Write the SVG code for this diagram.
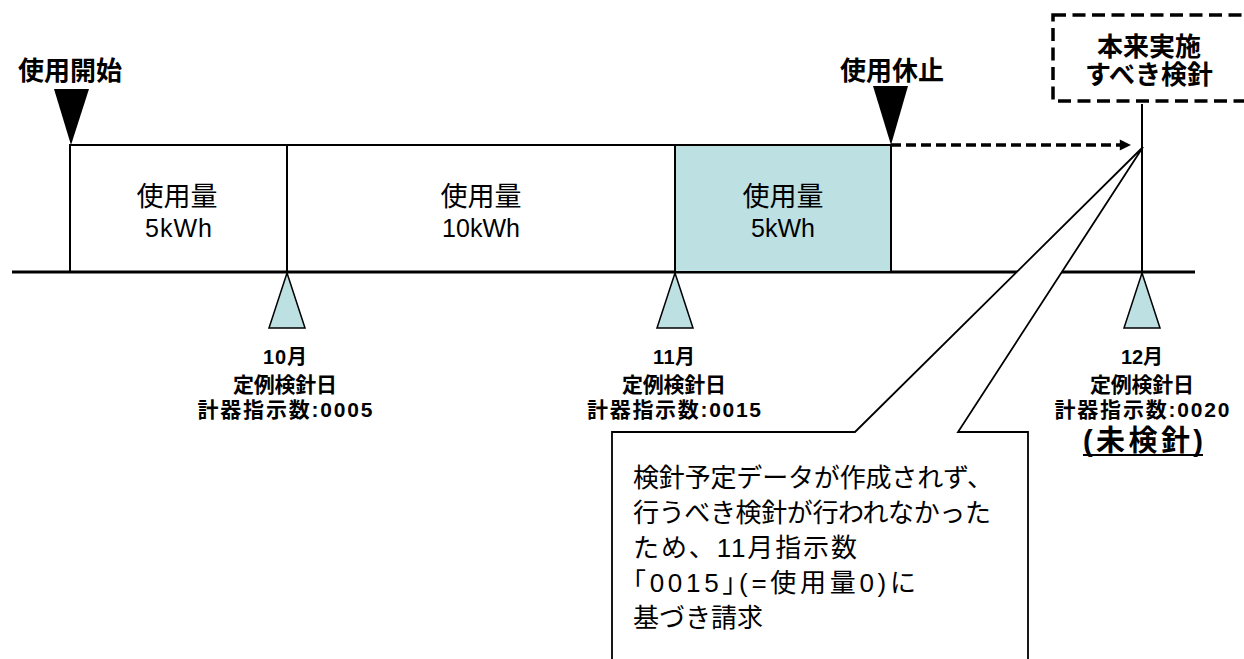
<svg xmlns="http://www.w3.org/2000/svg" width="1244" height="659" viewBox="0 0 1244 659">
<defs>
<style>
.t{font-family:"Liberation Sans","Noto Sans CJK JP",sans-serif;fill:#000}
.b{font-weight:bold}
.ln{stroke:#000;fill:none}
.blue{fill:#bde0e3;stroke:#000;stroke-width:2}
</style>
<marker id="ah" viewBox="0 0 10 10" refX="10" refY="5" markerWidth="4" markerHeight="3.2" orient="auto" markerUnits="strokeWidth">
<path d="M0,0 L10,5 L0,10 z" fill="#000"/>
</marker>
</defs>
<rect width="1244" height="659" fill="#fff"/>

<g id="timeline">
<line class="ln" x1="12" y1="272" x2="1195" y2="272" stroke-width="3"/>
</g>

<g id="period1">
<path class="ln" d="M70,272 V145 H287 V272" stroke-width="2"/>
<text class="t" x="177" y="206" font-size="27" text-anchor="middle">使用量</text>
<text class="t" x="179" y="237" font-size="25" text-anchor="middle" letter-spacing="1">5kWh</text>
</g>
<g id="period2">
<path class="ln" d="M287,145 H675" stroke-width="2"/>
<text class="t" x="481" y="206" font-size="27" text-anchor="middle">使用量</text>
<text class="t" x="481" y="237" font-size="25" text-anchor="middle">10kWh</text>
</g>
<g id="period3">
<rect class="blue" x="675" y="145" width="216" height="127"/>
<text class="t" x="783" y="206" font-size="27" text-anchor="middle">使用量</text>
<text class="t" x="783" y="237" font-size="25" text-anchor="middle">5kWh</text>
</g>

<g id="start">
<polygon points="54,89 89,89 71,145" fill="#000"/>
<text class="t b" x="70" y="80" font-size="26" text-anchor="middle">使用開始</text>
</g>
<g id="stop">
<polygon points="873,86 908,86 891,145" fill="#000"/>
<text class="t b" x="892" y="80" font-size="26" text-anchor="middle">使用休止</text>
</g>

<g id="callout">
<path d="M612,665 V432 H855 L1143,147 L958,432 H1028 V665" fill="#fff" stroke="#000" stroke-width="1.8"/>
<text class="t" font-size="26">
<tspan x="633" y="487" textLength="360" lengthAdjust="spacing">検針予定データが作成されず、</tspan>
<tspan x="633" y="522" textLength="358" lengthAdjust="spacing">行うべき検針が行われなかった</tspan>
<tspan x="633" y="557" textLength="224" lengthAdjust="spacing">ため、11月指示数</tspan>
<tspan x="633" y="592" textLength="283" lengthAdjust="spacing">｢0015｣(=使用量0)に</tspan>
<tspan x="633" y="627" textLength="130" lengthAdjust="spacing">基づき請求</tspan>
</text>
</g>

<g id="connectors">
<line class="ln" x1="891" y1="145" x2="1131" y2="145" stroke-width="3.5" stroke-dasharray="10 5" marker-end="url(#ah)"/>
<line class="ln" x1="1142" y1="104" x2="1142" y2="272" stroke-width="2"/>
</g>

<g id="planned">
<rect x="1053" y="15" width="200" height="86" fill="none" stroke="#000" stroke-width="3.5" stroke-dasharray="13 6.5"/>
<text class="t b" x="1149" y="56" font-size="26" text-anchor="middle">本来実施</text>
<text class="t b" x="1149" y="84" font-size="26" text-anchor="middle">すべき検針</text>
</g>

<g id="read10">
<polygon class="blue" points="287,273 269,328 305,328" style="stroke-width:1.5"/>
<text class="t b" x="285" y="364" font-size="20" text-anchor="middle" textLength="44" lengthAdjust="spacing">10月</text>
<text class="t b" x="285" y="392" font-size="21" text-anchor="middle" textLength="104" lengthAdjust="spacing">定例検針日</text>
<text class="t b" x="285" y="417" font-size="21" text-anchor="middle" textLength="175" lengthAdjust="spacing">計器指示数:0005</text>
</g>
<g id="read11">
<polygon class="blue" points="675,273 657,328 693,328" style="stroke-width:1.5"/>
<text class="t b" x="674" y="364" font-size="20" text-anchor="middle" textLength="42" lengthAdjust="spacing">11月</text>
<text class="t b" x="674" y="392" font-size="21" text-anchor="middle" textLength="104" lengthAdjust="spacing">定例検針日</text>
<text class="t b" x="674" y="417" font-size="21" text-anchor="middle" textLength="174" lengthAdjust="spacing">計器指示数:0015</text>
</g>
<g id="read12">
<polygon class="blue" points="1142,273 1124,328 1160,328" style="stroke-width:1.5"/>
<text class="t b" x="1142" y="364" font-size="20" text-anchor="middle" textLength="42" lengthAdjust="spacing">12月</text>
<text class="t b" x="1142" y="392" font-size="21" text-anchor="middle" textLength="104" lengthAdjust="spacing">定例検針日</text>
<text class="t b" x="1142" y="417" font-size="21" text-anchor="middle" textLength="175" lengthAdjust="spacing">計器指示数:0020</text>
<text class="t b" x="1143" y="451" font-size="29" text-anchor="middle" textLength="120" lengthAdjust="spacing">(未検針)</text>
<line class="ln" x1="1083" y1="455" x2="1203" y2="455" stroke-width="2"/>
</g>
</svg>
